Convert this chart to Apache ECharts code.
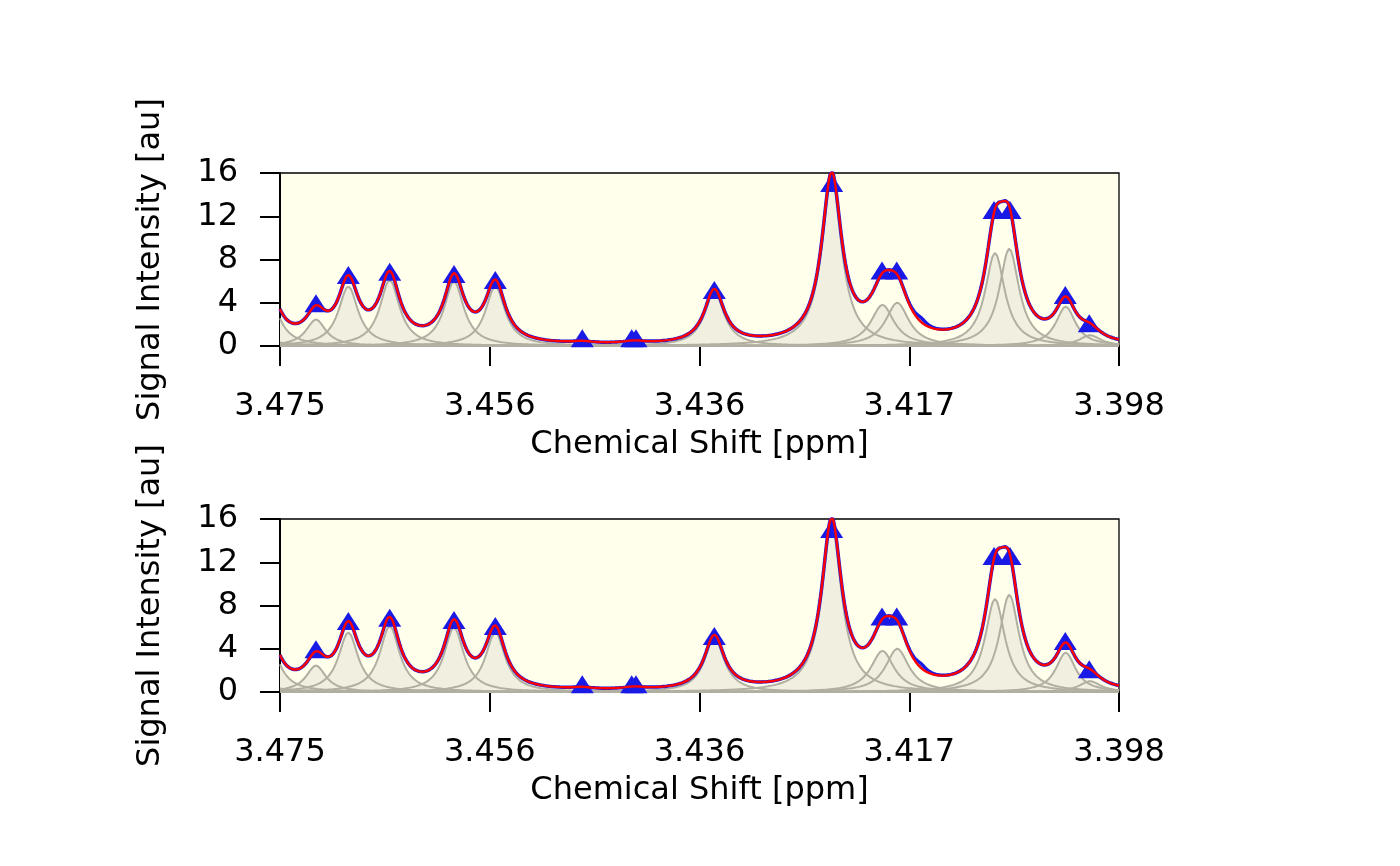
<!DOCTYPE html>
<html>
<head>
<meta charset="utf-8">
<script src="https://cdn.jsdelivr.net/npm/echarts@6/dist/echarts.min.js"></script>
<style>
html, body { margin: 0; padding: 0; background: #fff; }
#main { width: 1400px; height: 866px; }
</style>
</head>
<body>
<div id="main"></div>
<script>
// axis range (ppm), shown reversed like an NMR spectrum
var xMin = 3.398, xMax = 3.475;
var xTickLabels = ['3.475', '3.456', '3.436', '3.417', '3.398'];
var yMin = 0, yMax = 16, yStep = 4;

// fitted peaks (gray): centre, height, half width
var peakShift  = [3.47913, 3.47610, 3.47170, 3.46873, 3.46493, 3.45903, 3.45524, 3.44726, 3.44272, 3.44233,
                  3.43514, 3.42437, 3.41971, 3.41835, 3.40938, 3.40807, 3.40289, 3.40066];
var peakHeight = [5.0, 5.1, 2.45, 5.5, 6.1, 5.95, 5.5, 0.15, 0.1, 0.1,
                  5.0, 15.5, 3.8, 4.0, 8.6, 9.0, 3.64, 1.0];
var peakWidth  = [0.0011, 0.0011, 0.0011, 0.0011, 0.0011, 0.0011, 0.0011, 0.0011, 0.0011, 0.0011,
                  0.0011, 0.0011, 0.0013, 0.0013, 0.0011, 0.0011, 0.0011, 0.0012];

// part of the measured spectrum (blue) not covered by the fit
var residShift  = [3.41617];
var residHeight = [0.4];
var residWidth  = [0.0006];

// picked peaks (blue triangles)
var markShift = [3.47170, 3.46873, 3.46493, 3.45903, 3.45524, 3.44726, 3.44272, 3.44233,
                 3.43514, 3.42437, 3.41975, 3.41840, 3.40947, 3.40800, 3.40293, 3.40073];
var markValue = [3.67, 6.29, 6.6, 6.38, 5.83, 0.43, 0.43, 0.43,
                 4.9, 14.8, 6.7, 6.7, 12.3, 12.3, 4.44, 1.82];

var FONT = 'DejaVu Sans';
var BLUE = '#1A1AE6', RED = '#FF0000';
var FILL = '#F1EFDF', EDGE = '#B1AFA2';

function lorentz(x, c, h, w) {
	var d = (x - c) / w;
	return h / (1 + d * d);
}

var xs = [];
for (var i = 0; i <= 770; i++) {
	xs.push(+(xMin + i * 0.0001).toFixed(4));
}

var peakLines = [];
for (var k = 0; k < peakShift.length; k++) {
	peakLines.push(xs.map(function(x) { return [x, lorentz(x, peakShift[k], peakHeight[k], peakWidth[k])]; }));
}
var fitLine = xs.map(function(x, j) {
	var s = 0;
	for (var k = 0; k < peakLines.length; k++) s += peakLines[k][j][1];
	return [x, s];
});
var specLine = fitLine.map(function(p) {
	var s = p[1];
	for (var r = 0; r < residShift.length; r++) s += lorentz(p[0], residShift[r], residHeight[r], residWidth[r]);
	return [p[0], s];
});
var markData = markShift.map(function(x, i) { return [x, markValue[i]]; });

var panelTop = [173, 519];
var grids = [], xAxes = [], yAxes = [], series = [];

panelTop.forEach(function(top, p) {
	grids.push({
		left: 280, width: 839, top: top, height: 173,
		show: true, backgroundColor: '#FFFFEC',
		borderColor: '#000', borderWidth: 1.3
	});
	// data axis in ppm (hidden)
	xAxes.push({
		type: 'value', gridIndex: p, min: xMin, max: xMax, inverse: true,
		position: 'top', show: false
	});
	// visible tick axis
	xAxes.push({
		type: 'value', gridIndex: p, min: 0, max: 4, interval: 1, position: 'bottom',
		axisLine: { show: true, onZero: false, lineStyle: { color: '#000', width: 2 } },
		axisTick: { show: true, length: 20, lineStyle: { color: '#000', width: 2 } },
		splitLine: { show: false },
		axisLabel: {
			color: '#000', fontFamily: FONT, fontSize: 32, margin: 45,
			formatter: function(v) { return xTickLabels[Math.round(v)]; }
		},
		name: 'Chemical Shift [ppm]', nameLocation: 'middle', nameGap: 83,
		nameTextStyle: { color: '#000', fontFamily: FONT, fontSize: 32 }
	});
	yAxes.push({
		type: 'value', gridIndex: p, min: yMin, max: yMax, interval: yStep,
		axisLine: { show: true, lineStyle: { color: '#000', width: 2 } },
		axisTick: { show: true, length: 20, lineStyle: { color: '#000', width: 2 } },
		splitLine: { show: false },
		axisLabel: { color: '#000', fontFamily: FONT, fontSize: 32, margin: 42, padding: [5, 0, 0, 0] },
		name: 'Signal Intensity [au]', nameLocation: 'middle', nameGap: 113,
		nameTextStyle: { color: '#000', fontFamily: FONT, fontSize: 32 }
	});

	var xi = p * 2;
	// gray fills first, so no outline gets covered
	peakLines.forEach(function(d) {
		series.push({
			type: 'line', xAxisIndex: xi, yAxisIndex: p, data: d, z: 1,
			showSymbol: false, silent: true, animation: false,
			lineStyle: { width: 0 }, areaStyle: { color: FILL, opacity: 1 }
		});
	});
	peakLines.forEach(function(d) {
		series.push({
			type: 'line', xAxisIndex: xi, yAxisIndex: p, data: d, z: 2,
			showSymbol: false, silent: true, animation: false,
			lineStyle: { color: EDGE, width: 2 }
		});
	});
	series.push({
		type: 'line', xAxisIndex: xi, yAxisIndex: p, data: specLine, z: 3,
		showSymbol: false, silent: true, animation: false,
		lineStyle: { color: BLUE, width: 3.5 }
	});
	series.push({
		type: 'scatter', xAxisIndex: xi, yAxisIndex: p, data: markData, z: 4,
		symbol: 'triangle', symbolSize: [23, 18], symbolOffset: [0, -3],
		itemStyle: { color: BLUE, opacity: 1 }, silent: true, animation: false
	});
	series.push({
		type: 'line', xAxisIndex: xi, yAxisIndex: p, data: fitLine, z: 5,
		showSymbol: false, silent: true, animation: false,
		lineStyle: { color: RED, width: 2.4 }
	});
});

var myChart = echarts.init(document.getElementById('main'));
myChart.setOption({
	backgroundColor: '#fff',
	animation: false,
	grid: grids,
	xAxis: xAxes,
	yAxis: yAxes,
	series: series
});
</script>
</body>
</html>
